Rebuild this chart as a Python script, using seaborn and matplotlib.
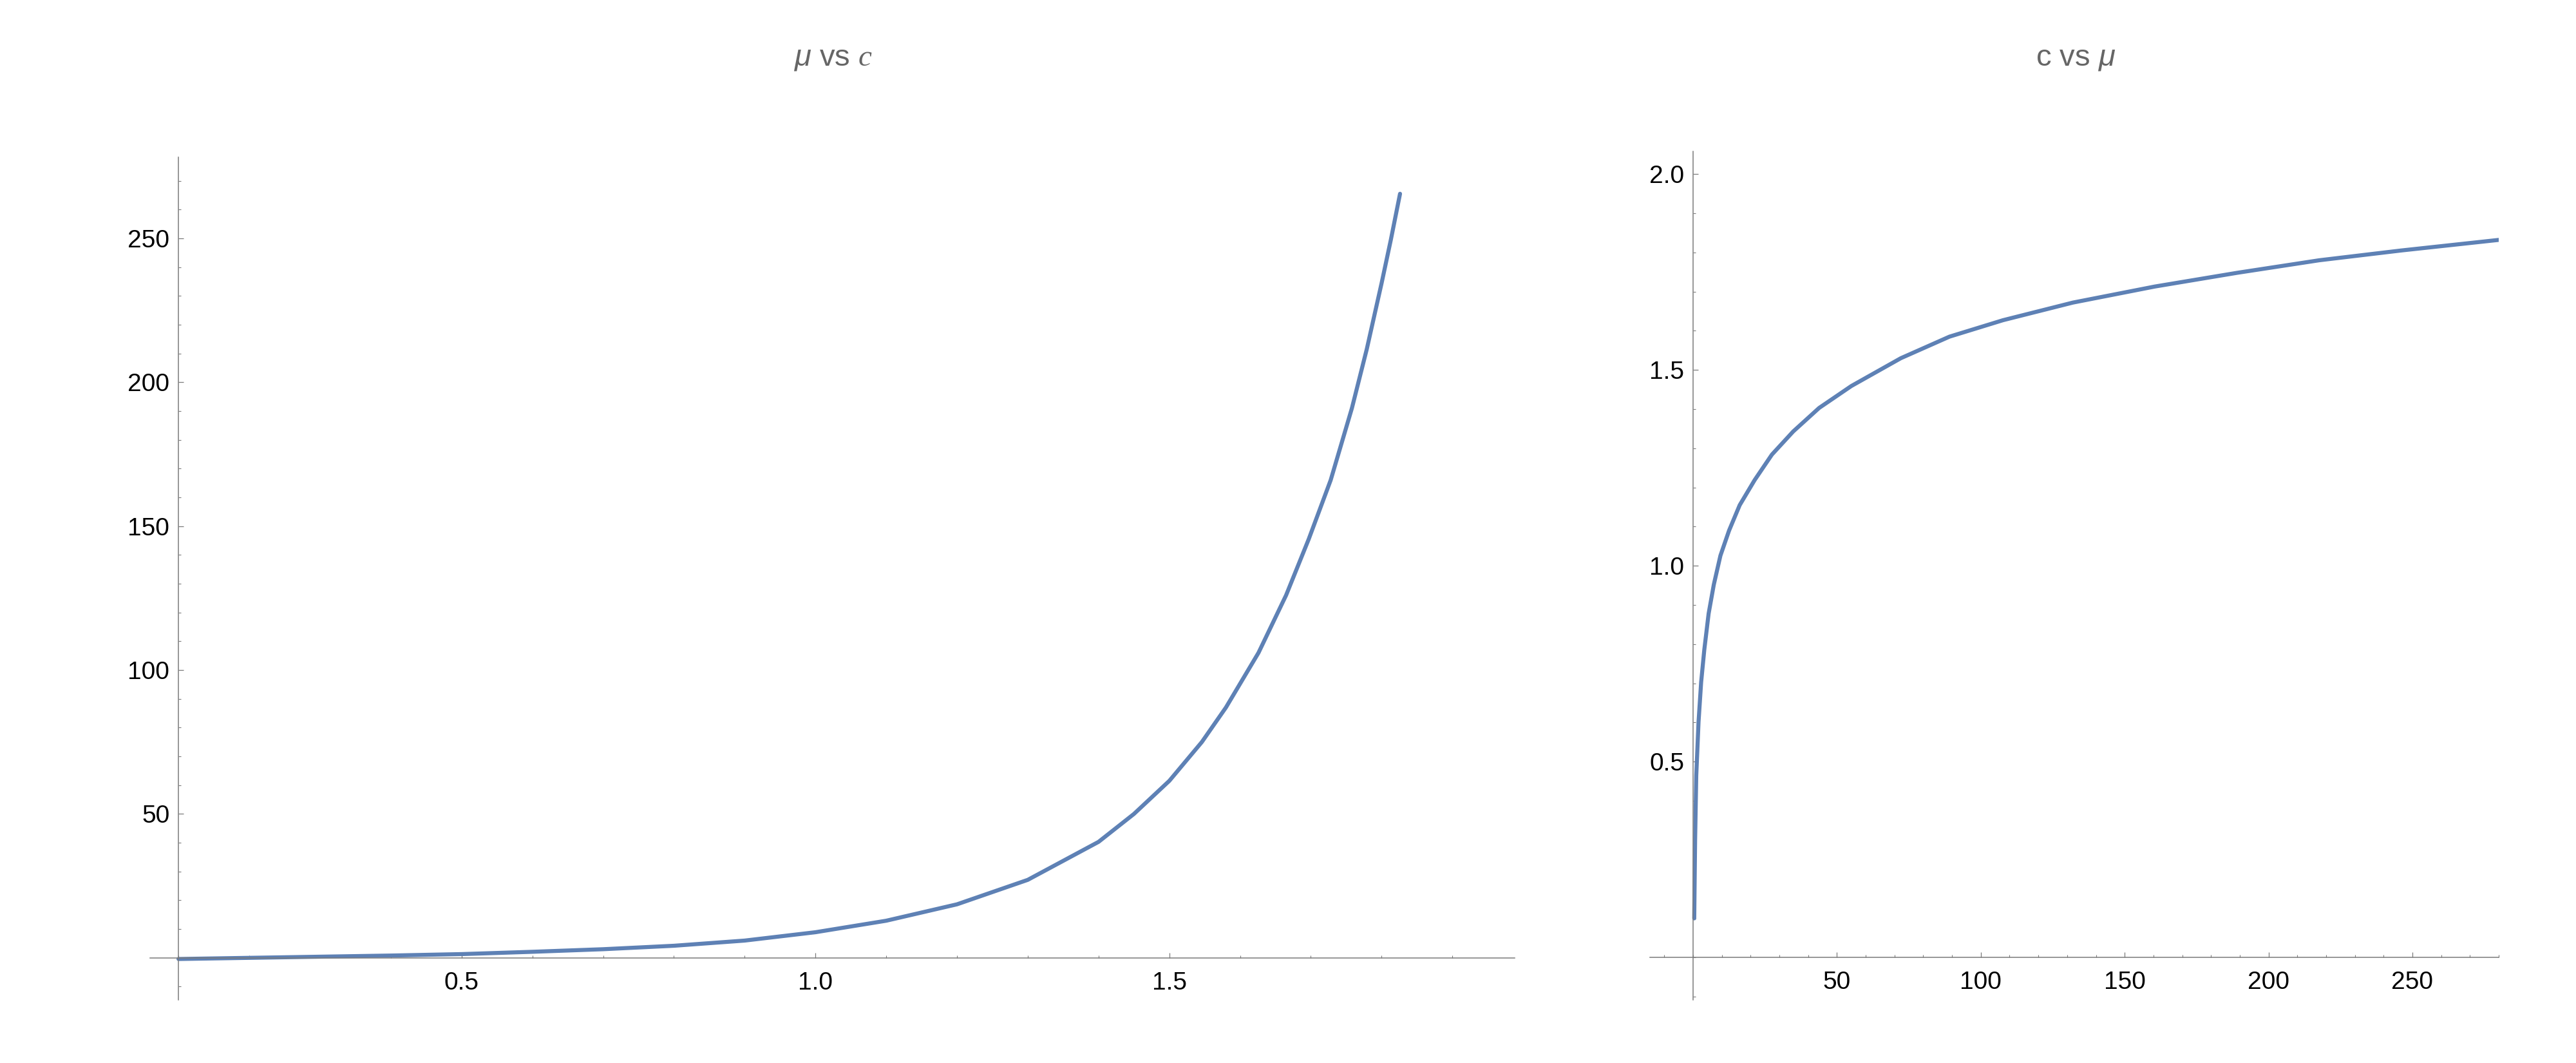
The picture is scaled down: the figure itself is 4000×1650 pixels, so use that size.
import matplotlib
matplotlib.use("Agg")
import matplotlib.pyplot as plt
import seaborn as sns
from matplotlib.ticker import FixedLocator, MultipleLocator, FormatStrFormatter

# Values
# left panel: mu as a function of c
c_left = [0.10, 0.20, 0.30, 0.40, 0.50, 0.60, 0.70, 0.80, 0.90, 1.00,
          1.10, 1.20, 1.30, 1.40, 1.45, 1.50, 1.546, 1.580, 1.626, 1.665,
          1.697, 1.728, 1.758, 1.779, 1.800, 1.813, 1.826]
mu_left = [-0.4, 0.0, 0.4, 0.8, 1.3, 2.1, 3.0, 4.2, 6.0, 8.9,
           12.9, 18.6, 27.1, 40.3, 50.0, 61.5, 75.0, 87.0, 106.0, 126.0,
           145.5, 166.0, 191.0, 211.5, 234.5, 249.5, 265.5]

# right panel: c as a function of mu
mu_right = [0.4, 0.7, 1.1, 1.9, 2.8, 3.9, 5.4, 7.2, 9.5, 12.5,
            16.2, 21.4, 27.4, 34.8, 43.8, 55.0, 72.2, 89.1, 107.7, 132.0,
            160.5, 189.1, 217.6, 246.1, 280.0]
c_right = [0.10, 0.298, 0.464, 0.602, 0.703, 0.786, 0.878, 0.952, 1.026, 1.090,
           1.155, 1.219, 1.284, 1.343, 1.403, 1.459, 1.530, 1.585, 1.627, 1.672,
           1.713, 1.748, 1.780, 1.805, 1.832]

left_xticks = [0.5, 1.0, 1.5]
left_yticks = [50, 100, 150, 200, 250]
right_xticks = [50, 100, 150, 200, 250]
right_yticks = [0.5, 1.0, 1.5, 2.0]

sns.set_theme(style="white")
plt.rcParams["font.family"] = ["Liberation Sans", "DejaVu Sans"]
plt.rcParams["mathtext.fontset"] = "custom"
plt.rcParams["mathtext.rm"] = "Liberation Sans"
plt.rcParams["mathtext.it"] = "Liberation Serif:italic"
plt.rcParams["mathtext.sf"] = "Liberation Sans:italic"

line_color = "#5e81b5"
axis_color = "#7a7a7a"
title_color = "#666666"

fig = plt.figure(figsize=(40, 16.5), dpi=100)
ax1 = fig.add_axes([0.0583, 0.0594, 0.5297, 0.7927])
ax2 = fig.add_axes([0.6405, 0.0594, 0.3295, 0.7982])

sns.lineplot(x=c_left, y=mu_left, ax=ax1, color=line_color, linewidth=4.5, sort=False)
sns.lineplot(x=mu_right, y=c_right, ax=ax2, color=line_color, linewidth=4.5, sort=False)

ax1.set_xlim(0.060, 1.988)
ax1.set_ylim(-14.6, 278.2)
ax2.set_xlim(-15.0, 280.0)
ax2.set_ylim(-0.108, 2.058)


def style_axes(ax, x_origin, y_origin, xmajor, xminor, ymajor, yminor, xfmt, yfmt):
    for side in ["top", "right"]:
        ax.spines[side].set_visible(False)
    ax.spines["left"].set_position(("data", x_origin))
    ax.spines["bottom"].set_position(("data", y_origin))
    for side in ["left", "bottom"]:
        ax.spines[side].set_color(axis_color)
        ax.spines[side].set_linewidth(1.1)
    ax.xaxis.set_major_locator(FixedLocator(xmajor))
    ax.xaxis.set_minor_locator(MultipleLocator(xminor))
    ax.yaxis.set_major_locator(FixedLocator(ymajor))
    ax.yaxis.set_minor_locator(MultipleLocator(yminor))
    ax.xaxis.set_major_formatter(FormatStrFormatter(xfmt))
    ax.yaxis.set_major_formatter(FormatStrFormatter(yfmt))
    ax.tick_params(which="both", bottom=True, left=True, top=False, right=False)
    ax.tick_params(which="major", direction="in", length=5.8, width=0.9,
                   color=axis_color, labelsize=28, labelcolor="black")
    ax.tick_params(which="minor", direction="in", length=2.9, width=0.8,
                   color=axis_color)
    ax.tick_params(axis="x", which="major", pad=15)
    ax.tick_params(axis="y", which="major", pad=10)
    ax.set_xlabel("")
    ax.set_ylabel("")
    ax.grid(False)


style_axes(ax1, 0.1, 0, left_xticks, 0.1, left_yticks, 10, "%.1f", "%d")
style_axes(ax2, 0, 0, right_xticks, 10, right_yticks, 0.1, "%d", "%.1f")

title_y = 1 - 102 / 1650
fig.text(0.3233, title_y, r"$\mathsf{\mu}$ vs $c$", ha="center", va="baseline",
         fontsize=34, color=title_color)
fig.text(0.8058, title_y, r"c vs $\mathsf{\mu}$", ha="center", va="baseline",
         fontsize=34, color=title_color)

fig.savefig("out.png", dpi=100, facecolor="white")
